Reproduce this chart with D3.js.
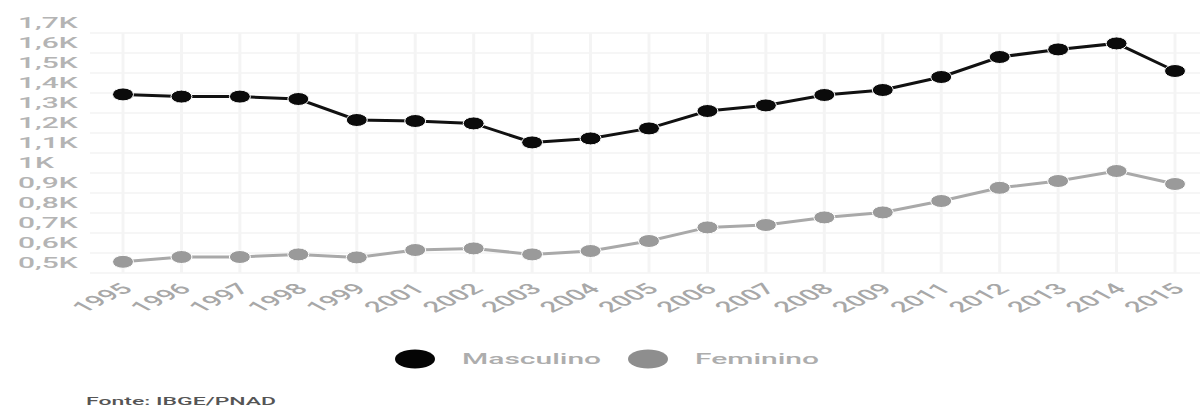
<!DOCTYPE html>
<html>
<head>
<meta charset="utf-8">
<script src="https://cdn.jsdelivr.net/npm/d3@7"></script>
<style>
  html, body { margin: 0; padding: 0; background: #fff; }
  svg { display: block; }
  text { font-family: Roboto, "Noto Sans", sans-serif; }
</style>
</head>
<body>
<svg id="chart" width="1200" height="410"></svg>
<script>
// Anos da PNAD (não há 2000 nem 2010)
const years = ["1995","1996","1997","1998","1999","2001","2002","2003","2004","2005",
               "2006","2007","2008","2009","2011","2012","2013","2014","2015"];

// Valores por sexo
const masculino = [1343,1332,1332,1320,1215,1210,1198,1103,1123,1173,
                   1260,1288,1340,1365,1430,1530,1568,1598,1460];
const feminino  = [506,530,530,543,528,565,573,543,560,610,
                   678,690,728,753,810,876,910,960,895];

// Marcas do eixo vertical
const yTicks = [500,600,700,800,900,1000,1100,1200,1300,1400,1500,1600,1700];

const seriesNames = ["Masculino","Feminino"];
const sourceText = "Fonte: IBGE/PNAD";

const svg = d3.select("#chart");
const SX = 2; // largura horizontal dos textos

const x = d3.scalePoint().domain(years).range([123, 1175]);
const y = d3.scaleLinear().domain([500, 1700]).range([263, 23]);

const fmtK = v => {
  const k = v / 1000;
  return (Number.isInteger(k) ? String(k) : k.toFixed(1).replace(".", ",")) + "K";
};

// grade
const grid = svg.append("g");
const gridVals = yTicks.map(v => v - 50);
grid.selectAll("line.h").data(gridVals).join("line")
  .attr("x1", 90).attr("x2", 1200)
  .attr("y1", d => y(d)).attr("y2", d => y(d))
  .attr("stroke", "#eeeeee").attr("stroke-width", 1.2);
grid.selectAll("line.v").data(years).join("line")
  .attr("x1", d => x(d)).attr("x2", d => x(d))
  .attr("y1", y(1650)).attr("y2", y(450))
  .attr("stroke", "#f4f4f4").attr("stroke-width", 3);

// rótulos do eixo Y
svg.append("g").selectAll("text").data(yTicks).join("text")
  .attr("transform", d => `translate(18,${y(d)}) scale(${SX},1)`)
  .attr("dominant-baseline", "central")
  .attr("font-size", 15)
  .attr("font-weight", 500)
  .attr("fill", "#b4b4b4")
  .text(fmtK);

// rótulos do eixo X
svg.append("g").selectAll("text").data(years).join("text")
  .attr("transform", d => `translate(${x(d) + 11},290) scale(${SX},1) rotate(-43)`)
  .attr("text-anchor", "end")
  .attr("font-size", 15)
  .attr("font-weight", 500)
  .attr("fill", "#a8a8a8")
  .text(d => d);

// séries
const series = [
  { name: seriesNames[0], values: masculino, line: "#111", dot: "#0b0b0b" },
  { name: seriesNames[1], values: feminino,  line: "#a9a9a9", dot: "#9a9a9a" }
];
const line = d3.line().x((d, i) => x(years[i])).y(d => y(d));

series.forEach(s => {
  svg.append("path")
    .datum(s.values)
    .attr("d", line)
    .attr("fill", "none")
    .attr("stroke", s.line)
    .attr("stroke-width", 3);
  svg.append("g").selectAll("ellipse").data(s.values).join("ellipse")
    .attr("cx", (d, i) => x(years[i]))
    .attr("cy", d => y(d))
    .attr("rx", 10.5).attr("ry", 6.5)
    .attr("fill", s.dot)
    .attr("stroke", "#fff").attr("stroke-width", 1);
});

// legenda
const legend = svg.append("g");
const legendX = [415, 648];
series.forEach((s, i) => {
  legend.append("ellipse")
    .attr("cx", legendX[i]).attr("cy", 359)
    .attr("rx", 20).attr("ry", 9.5)
    .attr("fill", i === 0 ? "#050505" : "#8e8e8e");
  legend.append("text")
    .attr("transform", `translate(${legendX[i] + 47},359) scale(${SX},1)`)
    .attr("dominant-baseline", "central")
    .attr("font-size", 15)
    .attr("font-weight", 500)
    .attr("fill", "#adadad")
    .text(s.name);
});

// fonte
svg.append("text")
  .attr("transform", `translate(86,401) scale(${SX},1)`)
  .attr("dominant-baseline", "central")
  .attr("font-size", 11.5)
  .attr("font-weight", 500)
  .attr("fill", "#555")
  .text(sourceText);
</script>
</body>
</html>
